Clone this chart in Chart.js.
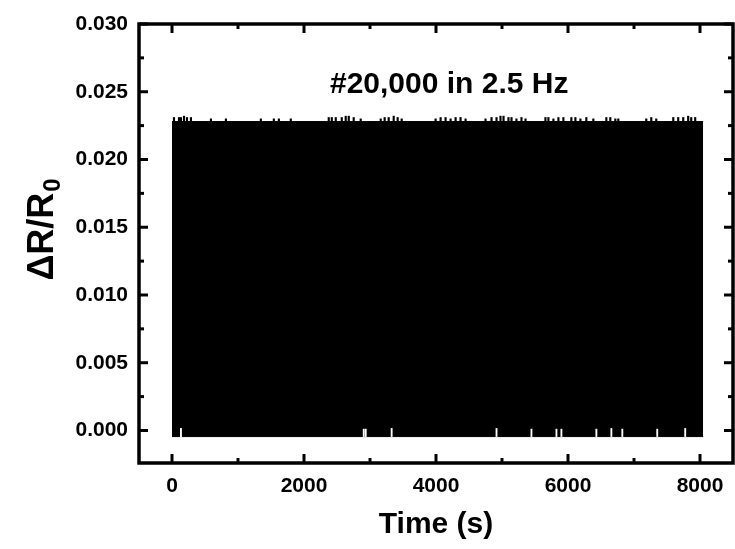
<!DOCTYPE html>
<html>
<head>
<meta charset="utf-8">
<script src="https://cdn.jsdelivr.net/npm/chart.js@4.4.1/dist/chart.umd.min.js"></script>
<style>
    html, body { margin: 0; padding: 0; background: #fff; }
    #wrap { width: 735px; height: 549px; }
</style>
</head>
<body>
<div id="wrap"><canvas id="cycleChart"></canvas></div>
<script>
// Response envelope of the cycling test (#20,000 cycles at 2.5 Hz)
const envTimes = [0, 1000, 2000, 3000, 4000, 5000, 6000, 7000, 8000, 8048];
const envUpper = [0.0228, 0.0228, 0.0228, 0.0228, 0.0228, 0.0228, 0.0228, 0.0228, 0.0228, 0.0228];
const envLower = [-0.00045, -0.00045, -0.00045, -0.00045, -0.00045, -0.00045, -0.00045, -0.00045, -0.00045, -0.00045];

// Peaks poking above the envelope
const spikeTimes = [30, 106, 136, 182, 227, 287, 590, 817, 1346, 1543, 1619, 1800,
    2375, 2421, 2481, 2572, 2632, 2678, 2753, 2859, 3162, 3222, 3283, 3359, 3419, 3480, 3994,
    4070, 4145, 4221, 4297, 4372, 4448, 4750, 4841, 4917, 4977, 5023, 5098, 5144, 5219, 5295, 5356,
    5658, 5703, 5779, 5855, 5930, 6051, 6112, 6188, 6278, 6384, 6581, 6641, 6717, 6762,
    7186, 7262, 7337, 7595, 7670, 7746, 7821, 7867, 7927];
const spikeTops = [0.0231, 0.0231, 0.0231, 0.0232, 0.0231, 0.0231, 0.0230, 0.0230, 0.0230, 0.0230, 0.0230, 0.0230,
    0.0231, 0.0231, 0.0231, 0.0231, 0.0232, 0.0232, 0.0231, 0.0230, 0.0230, 0.0231, 0.0231, 0.0232, 0.0231, 0.0230, 0.0230,
    0.0231, 0.0231, 0.0230, 0.0231, 0.0231, 0.0230, 0.0230, 0.0231, 0.0231, 0.0232, 0.0232, 0.0231, 0.0231, 0.0230, 0.0231, 0.0230,
    0.0231, 0.0231, 0.0230, 0.0231, 0.0231, 0.0231, 0.0231, 0.0230, 0.0231, 0.0230, 0.0231, 0.0231, 0.0230, 0.0230,
    0.0230, 0.0231, 0.0230, 0.0231, 0.0231, 0.0231, 0.0232, 0.0231, 0.0231];

// Cycles whose minimum stayed above the lower envelope
const notchTimes = [136, 2905, 2935, 3328, 4917, 5446, 5825, 5900, 6430, 6657, 6823, 7352, 7776];
const notchTops = [0.00015, 0.0001, 0.0001, 0.00015, 0.00015, 0.0001, 0.0001, 0.0001, 0.0001, 0.00015, 0.0001, 0.0001, 0.00015];

const xTickValues = [0, 2000, 4000, 6000, 8000];
const xMinorValues = [1000, 3000, 5000, 7000];
const yTickValues = [0, 0.005, 0.010, 0.015, 0.020, 0.025, 0.030];
const yMinorValues = [0.0025, 0.0075, 0.0125, 0.0175, 0.0225, 0.0275];

const FONT = '"Liberation Sans", Arial, sans-serif';

const upperData = envTimes.map((t, i) => ({ x: t, y: envUpper[i] }));
const lowerData = envTimes.map((t, i) => ({ x: t, y: envLower[i] }));
const spikeData = spikeTimes.map((t, i) => ({ x: t, y: [envUpper[0], spikeTops[i]] }));
const notchData = notchTimes.map((t, i) => ({ x: t, y: [envLower[0], notchTops[i]] }));

// Boxed frame with inward ticks on all four sides
const frameTicks = {
    id: 'frameTicks',
    afterDraw(chart) {
        const { ctx, chartArea: a, scales: { x, y } } = chart;
        const seg = (x1, y1, x2, y2) => { ctx.beginPath(); ctx.moveTo(x1, y1); ctx.lineTo(x2, y2); ctx.stroke(); };
        ctx.save();
        ctx.strokeStyle = '#000';
        ctx.lineWidth = 3;
        const xt = (v, len) => {
            const p = x.getPixelForValue(v);
            seg(p, a.bottom, p, a.bottom - len);
            seg(p, a.top, p, a.top + len);
        };
        const yt = (v, len) => {
            const p = y.getPixelForValue(v);
            seg(a.left, p, a.left + len, p);
            seg(a.right, p, a.right - len, p);
        };
        xTickValues.forEach(v => xt(v, 9));
        xMinorValues.forEach(v => xt(v, 5));
        yTickValues.forEach(v => yt(v, 9));
        yMinorValues.forEach(v => yt(v, 5));
        ctx.lineWidth = 3.5;
        ctx.strokeRect(a.left, a.top, a.right - a.left, a.bottom - a.top);
        ctx.restore();
    }
};

// In-plot label and the y title with its subscript
const labels = {
    id: 'labels',
    afterDraw(chart) {
        const { ctx, scales: { x } } = chart;
        ctx.save();
        ctx.fillStyle = '#000';
        ctx.font = 'bold 30px ' + FONT;
        ctx.textAlign = 'center';
        ctx.textBaseline = 'alphabetic';
        ctx.fillText('#20,000 in 2.5 Hz', x.getPixelForValue(4200), 93);

        ctx.translate(53, 230);
        ctx.rotate(-Math.PI / 2);
        ctx.textAlign = 'left';
        ctx.font = 'bold 36px ' + FONT;
        const main = '\u0394R/R';
        const wMain = ctx.measureText(main).width;
        ctx.font = 'bold 24px ' + FONT;
        const wSub = ctx.measureText('0').width;
        const start = -(wMain + wSub) / 2;
        ctx.font = 'bold 36px ' + FONT;
        ctx.fillText(main, start, 0);
        ctx.font = 'bold 24px ' + FONT;
        ctx.fillText('0', start + wMain + 1, 7);
        ctx.restore();
    }
};

new Chart(document.getElementById('cycleChart'), {
    type: 'line',
    data: {
        datasets: [
            {
                label: 'upper',
                data: upperData,
                borderColor: '#000',
                borderWidth: 1,
                backgroundColor: '#000',
                pointRadius: 0,
                tension: 0,
                fill: '+1',
                order: 3
            },
            {
                label: 'lower',
                data: lowerData,
                borderColor: '#000',
                borderWidth: 1,
                pointRadius: 0,
                tension: 0,
                fill: false,
                order: 3
            },
            {
                type: 'bar',
                label: 'peaks',
                data: spikeData,
                backgroundColor: '#000',
                barThickness: 1.5,
                grouped: false,
                order: 2
            },
            {
                type: 'bar',
                label: 'troughs',
                data: notchData,
                backgroundColor: '#fff',
                barThickness: 1.2,
                grouped: false,
                order: 1
            }
        ]
    },
    options: {
        responsive: true,
        maintainAspectRatio: false,
        animation: false,
        layout: { padding: { top: 24, right: 2, left: 0, bottom: 0 } },
        plugins: {
            legend: { display: false },
            tooltip: { enabled: false }
        },
        scales: {
            x: {
                type: 'linear',
                min: -500, max: 8500,
                offset: false,
                afterBuildTicks: s => { s.ticks = xTickValues.map(v => ({ value: v })); },
                afterFit: s => { s.height = 86; },
                grid: { display: false, drawTicks: false, offset: false },
                border: { display: false },
                ticks: {
                    padding: 11, color: '#000', maxRotation: 0, autoSkip: false,
                    font: { family: FONT, size: 21, weight: 'bold' },
                    callback: v => String(v)
                },
                title: {
                    display: true, text: 'Time (s)', color: '#000',
                    font: { family: FONT, size: 30, weight: 'bold' },
                    padding: { top: 0, bottom: 6 }
                }
            },
            y: {
                min: -0.0024, max: 0.030,
                afterBuildTicks: s => { s.ticks = yTickValues.map(v => ({ value: v })); },
                afterFit: s => { s.width = 139; },
                grid: { display: false, drawTicks: false },
                border: { display: false },
                ticks: {
                    padding: 11, color: '#000', autoSkip: false,
                    font: { family: FONT, size: 21, weight: 'bold' },
                    callback: v => v.toFixed(3)
                }
            }
        }
    },
    plugins: [frameTicks, labels]
});
</script>
</body>
</html>
